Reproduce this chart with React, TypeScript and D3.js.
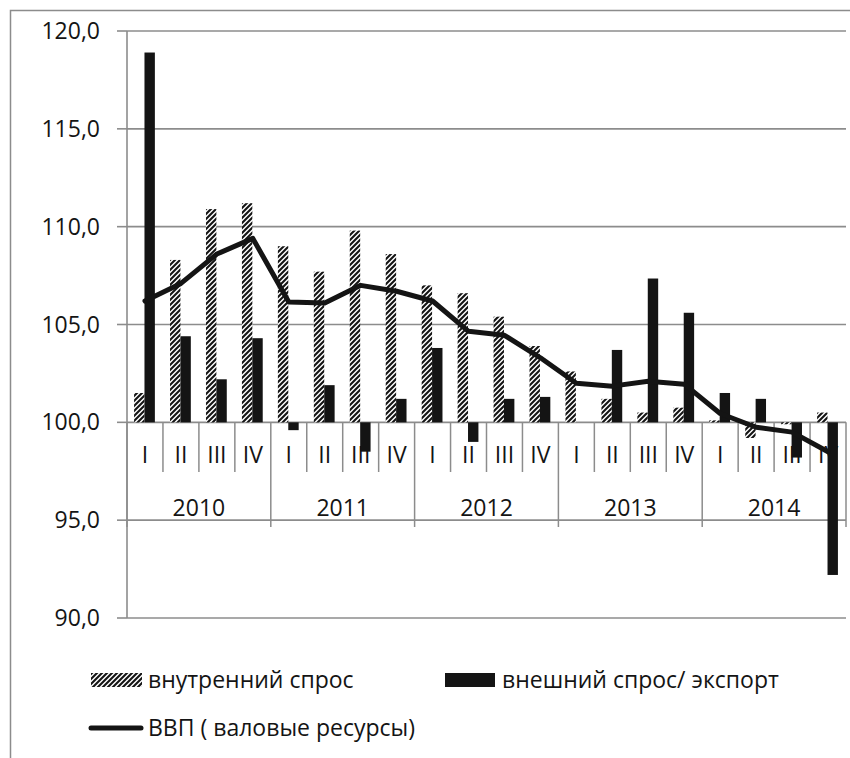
import React from "react";
import * as d3 from "d3";

const years = ["2010", "2011", "2012", "2013", "2014"];
const quarterNames = ["I", "II", "III", "IV"];
const categories = years.flatMap((y) => quarterNames.map((q) => `${y}-${q}`));

const domesticDemand = [
  101.5, 108.3, 110.9, 111.2,
  109.0, 107.7, 109.8, 108.6,
  107.0, 106.6, 105.4, 103.9,
  102.6, 101.2, 100.5, 100.75,
  100.1, 99.2, 99.9, 100.5,
];
const externalDemand = [
  118.9, 104.4, 102.2, 104.3,
  99.6, 101.9, 98.5, 101.2,
  103.8, 99.0, 101.2, 101.3,
  100.0, 103.7, 107.35, 105.6,
  101.5, 101.2, 98.2, 92.2,
];
const gdp = [
  106.2, 107.1, 108.6, 109.4,
  106.15, 106.1, 107.0, 106.7,
  106.2, 104.65, 104.45, 103.3,
  102.0, 101.85, 102.1, 101.95,
  100.45, 99.75, 99.5, 98.5,
];
const yTicks = [90, 95, 100, 105, 110, 115, 120];
const legendLabels = ["внутренний спрос", "внешний спрос/ экспорт", "ВВП ( валовые ресурсы)"];

const W = 850;
const H = 758;
const FONT = "'Open Sans', 'DejaVu Sans', sans-serif";
const INK = "#141414";
const GRID = "#8c8c8c";

export default function App() {
  const x0 = 127;
  const x1 = 846;
  const x = d3.scaleBand<string>().domain(categories).range([x0, x1]).padding(0);
  const y = d3.scaleLinear().domain([90, 120]).range([618, 31]);
  const bw = x.bandwidth();
  const barW = 10.4;
  const base = y(100);
  const cx = (i: number) => (x(categories[i]) as number) + bw / 2;
  const fmt = (v: number) => v.toFixed(1).replace(".", ",");

  const line = d3
    .line<number>()
    .x((_, i) => cx(i))
    .y((d) => y(d));

  const qSepBottom = 472;
  const ySepBottom = 527;

  return (
    <svg
      width={W}
      height={H}
      style={{ position: "absolute", left: 0, top: 0, background: "#fff" }}
      fontFamily={FONT}
    >
      <defs>
        <pattern id="hatch" patternUnits="userSpaceOnUse" width={5} height={5}>
          <rect width={5} height={5} fill="#fff" />
          <path d="M-1.25,1.25 l2.5,-2.5 M0,5 l5,-5 M3.75,6.25 l2.5,-2.5" stroke={INK} strokeWidth={2.1} />
        </pattern>
      </defs>
      <rect x={0} y={0} width={W} height={H} fill="#fff" />
      {/* outer frame */}
      <rect x={10.5} y={10.5} width={W + 10} height={H + 10} fill="none" stroke={GRID} strokeWidth={1.5} />

      {/* gridlines */}
      {yTicks.map((t) => (
        <g key={t}>
          <line x1={x0} x2={x1} y1={y(t)} y2={y(t)} stroke={GRID} strokeWidth={1.6} />
          <line x1={x0 - 10} x2={x0} y1={y(t)} y2={y(t)} stroke={GRID} strokeWidth={1.6} />
          <text x={100} y={y(t)} dy="0.35em" textAnchor="end" fontSize={23} fill={INK}>
            {fmt(t)}
          </text>
        </g>
      ))}
      <line x1={x0} x2={x0} y1={y(120)} y2={y(90)} stroke={GRID} strokeWidth={1.6} />

      {/* category axis: quarter and year separators */}
      {categories.map((c, i) => {
        const left = x(c) as number;
        const isYear = i % 4 === 0;
        return (
          <line
            key={`s${i}`}
            x1={left}
            x2={left}
            y1={base}
            y2={isYear ? ySepBottom : qSepBottom}
            stroke={GRID}
            strokeWidth={1.5}
          />
        );
      })}
      <line x1={x1} x2={x1} y1={base} y2={ySepBottom} stroke={GRID} strokeWidth={1.5} />
      {categories.map((c, i) => (
        <text key={`q${i}`} x={cx(i)} y={463} textAnchor="middle" fontSize={23} fill={INK}>
          {quarterNames[i % 4]}
        </text>
      ))}
      {years.map((yr, j) => {
        const left = x(categories[j * 4]) as number;
        return (
          <text key={yr} x={left + bw * 2} y={516} textAnchor="middle" fontSize={23} fill={INK}>
            {yr}
          </text>
        );
      })}

      {/* bars */}
      {domesticDemand.map((v, i) => (
        <rect
          key={`d${i}`}
          x={cx(i) - barW - 0.5}
          width={barW}
          y={Math.min(y(v), base)}
          height={Math.abs(y(v) - base)}
          fill="url(#hatch)"
        />
      ))}
      {externalDemand.map((v, i) => (
        <rect
          key={`e${i}`}
          x={cx(i) - 0.5}
          width={barW}
          y={Math.min(y(v), base)}
          height={Math.abs(y(v) - base)}
          fill={INK}
        />
      ))}

      {/* GDP line */}
      <path
        d={line(gdp) || ""}
        fill="none"
        stroke={INK}
        strokeWidth={5}
        strokeLinejoin="round"
        strokeLinecap="round"
      />

      {/* legend */}
      <g fontSize={23} fill={INK}>
        <rect x={91} y={673} width={51} height={14} fill="url(#hatch)" />
        <text x={148} y={680} dy="0.35em">{legendLabels[0]}</text>
        <rect x={445} y={673} width={50} height={14} fill={INK} />
        <text x={502} y={680} dy="0.35em">{legendLabels[1]}</text>
        <line x1={91} x2={141} y1={728} y2={728} stroke={INK} strokeWidth={5} strokeLinecap="round" />
        <text x={148} y={728} dy="0.35em">{legendLabels[2]}</text>
      </g>
    </svg>
  );
}
